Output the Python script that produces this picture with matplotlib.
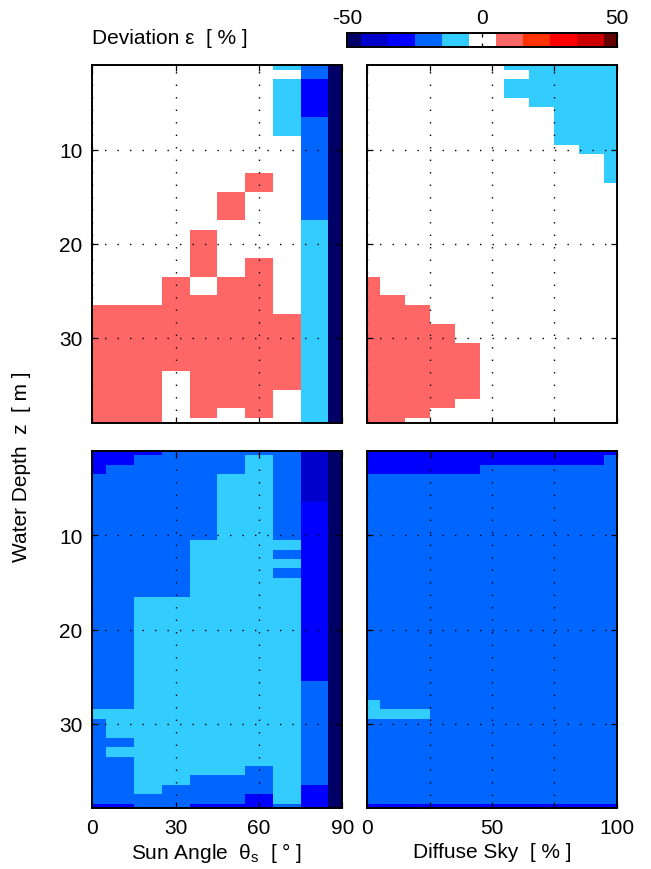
import numpy as np
import matplotlib
matplotlib.use('Agg')
import matplotlib.pyplot as plt
from matplotlib.colors import ListedColormap, BoundaryNorm

plt.rcParams['font.family'] = ['Liberation Sans', 'DejaVu Sans']
plt.rcParams['mathtext.fontset'] = 'custom'
plt.rcParams['mathtext.rm'] = 'Liberation Sans'
plt.rcParams['mathtext.it'] = 'Liberation Sans:italic'
plt.rcParams['axes.unicode_minus'] = False

# ---------------- data ----------------
sun_angle = list(range(0, 91, 10))        # deg
diffuse_sky = list(range(0, 101, 10))     # %
depth = list(range(1, 40))                # m

# deviation class -> representative deviation value [%]
level = {'N': -50, 'D': -40, 'B': -30, 'M': -20, 'C': -10, 'W': 0, 'S': 10}

# rows = depth 1..39, columns = sun angle 0..90
sun_top = (["WWWWWWWCMN"] + ["WWWWWWWWMN"] + ["WWWWWWWCBN"] * 4 + ["WWWWWWWCMN"] * 2
           + ["WWWWWWWWMN"] * 4 + ["WWWWWWSWMN"] * 2 + ["WWWWWSWWMN"] * 3
           + ["WWWWWWWWCN"] + ["WWWWSWWWCN"] * 3 + ["WWWWSWSWCN"] * 2
           + ["WWWSWSSWCN"] * 2 + ["WWWSSSSWCN"] + ["SSSSSSSWCN"]
           + ["SSSSSSSSCN"] * 6 + ["SSSWSSSSCN"] * 2 + ["SSSWSSSWCN"] * 2
           + ["SSSWSWSWCN"] + ["SSSWWWWWCN"])

# rows = depth 1..39, columns = diffuse sky 0..100
sky_top = (["WWWWWWCCCCC"] + ["WWWWWWWCCCC"] + ["WWWWWWCCCCC"] * 2 + ["WWWWWWWCCCC"]
           + ["WWWWWWWWCCC"] * 4 + ["WWWWWWWWWCC"] + ["WWWWWWWWWWC"] * 3
           + ["WWWWWWWWWWW"] * 10 + ["SWWWWWWWWWW"] * 2 + ["SSWWWWWWWWW"]
           + ["SSSWWWWWWWW"] * 2 + ["SSSSWWWWWWW"] * 2 + ["SSSSSWWWWWW"] * 6
           + ["SSSSWWWWWWW"] + ["SSSWWWWWWWW"] + ["SSWWWWWWWWW"])

sun_bottom = (["BBBMMMMMDN"] + ["BBMMMMCMDN"] + ["BMMMMMCMDN"] + ["MMMMMCCMDN"] * 3
              + ["MMMMMCCMBN"] * 4 + ["MMMMCCCCBN"] + ["MMMMCCCMBN"] + ["MMMMCCCCBN"]
              + ["MMMMCCCMBN"] + ["MMMMCCCCBN"] * 2 + ["MMCCCCCCBN"] * 9
              + ["MMCCCCCCMN"] * 3 + ["CCCCCCCCMN"] + ["MCCCCCCCMN"] * 2
              + ["MMCCCCCCMN"] + ["MCCCCCCCMN"] + ["MMCCCCCCMN"] + ["MMCCCCMCMN"]
              + ["MMCCMMMCMN"] + ["MMCMMMMCBN"] + ["MMMMMMBCBN"] + ["BBMMBBBMBN"])

sky_bottom = (["BBBBBBBBBBB"] + ["BBBBBBBBBBM"] + ["BBBBBMMMMMM"] + ["MMMMMMMMMMM"] * 24
              + ["CMMMMMMMMMM"] + ["CCCMMMMMMMM"] + ["MMMMMMMMMMM"] * 9 + ["BBBBBBBBBBB"])

cbar_values = [-50, -40, -30, -20, -10, 0, 10, 20, 30, 40, 50]
cbar_colors = ['#000066', '#0000CC', '#0000FF', '#0066FF', '#33CCFF', '#FFFFFF',
               '#FF6666', '#FF3300', '#FF0000', '#CC0000', '#660000']


def to_grid(rows):
    return np.array([[level[c] for c in r] for r in rows], dtype=float)


def edges(centers, lo, hi):
    c = np.asarray(centers, dtype=float)
    mid = (c[:-1] + c[1:]) / 2
    return np.concatenate([[lo], mid, [hi]])


bounds = np.arange(-55, 56, 10)
cmap = ListedColormap(cbar_colors)
norm = BoundaryNorm(bounds, cmap.N)

W, H = 651, 870
fig = plt.figure(figsize=(W / 100, H / 100), dpi=100)


def rect(x0, y0, x1, y1):
    return [x0 / W, 1 - y1 / H, (x1 - x0) / W, (y1 - y0) / H]


ax_tl = fig.add_axes(rect(92.3, 66, 342.3, 423.5))
ax_tr = fig.add_axes(rect(367.3, 66, 616.7, 423.5))
ax_bl = fig.add_axes(rect(92.3, 451.7, 342.3, 809.3))
ax_br = fig.add_axes(rect(367.3, 451.7, 616.7, 809.3))

ye = edges(depth, 0.5, 39.5)
xs = edges(sun_angle, -5, 95)
xd = edges(diffuse_sky, -5, 105)

FS = 15
panels = [(ax_tl, xs, sun_top, 'sun', True), (ax_tr, xd, sky_top, 'sky', True),
          (ax_bl, xs, sun_bottom, 'sun', False), (ax_br, xd, sky_bottom, 'sky', False)]
for ax, xe, rows, kind, top in panels:
    ax.pcolormesh(xe, ye, to_grid(rows), cmap=cmap, norm=norm, shading='flat')
    ax.set_ylim(39, 1)
    if kind == 'sun':
        ax.set_xlim(0, 90)
        ax.set_xticks([0, 30, 60, 90])
        ax.set_yticks([10, 20, 30])
        ax.set_yticklabels(['10', '20', '30'])
    else:
        ax.set_xlim(0, 100)
        ax.set_xticks([0, 25, 50, 75, 100])
        ax.set_xticklabels(['0', '', '50', '', '100'])
        ax.set_yticks([10, 20, 30])
        ax.set_yticklabels([])
    if top:
        ax.set_xticklabels([])
    ax.set_axisbelow(False)
    ax.grid(True, color='black', linestyle=(0, (1.0, 8.0)), linewidth=1.0)
    ax.tick_params(direction='in', top=True, right=True, length=4.5, width=0.9,
                   labelsize=FS, pad=7)
    for s in ax.spines.values():
        s.set_linewidth(1.4)

# colorbar (manual)
cax = fig.add_axes(rect(347, 33.5, 617, 48.3))
cx = edges(cbar_values, -50, 50)
cax.pcolormesh(cx, [0, 1], np.array([cbar_values], dtype=float), cmap=cmap, norm=norm)
cax.set_xlim(-50, 50)
cax.set_ylim(0, 1)
cax.set_yticks([])
cax.set_xticks([-50, 0, 50])
cax.tick_params(axis='x', direction='in', top=True, bottom=True, labeltop=True,
                labelbottom=False, length=3, width=0.9, labelsize=FS, pad=4)
for s in cax.spines.values():
    s.set_linewidth(1.4)

fig.text(92 / W, 1 - 38 / H, 'Deviation ε  [ % ]', fontsize=FS, ha='left', va='center')
fig.text(217 / W, 1 - 853 / H, r'Sun Angle  θ$_\mathregular{s}$  [ ° ]', fontsize=FS,
         ha='center', va='center')
fig.text(492 / W, 1 - 853 / H, 'Diffuse Sky  [ % ]', fontsize=FS, ha='center', va='center')
fig.text(22 / W, 1 - 467 / H, 'Water Depth  z  [ m ]', fontsize=FS, ha='center',
         va='center', rotation=90)

fig.savefig('out.png', dpi=100)
